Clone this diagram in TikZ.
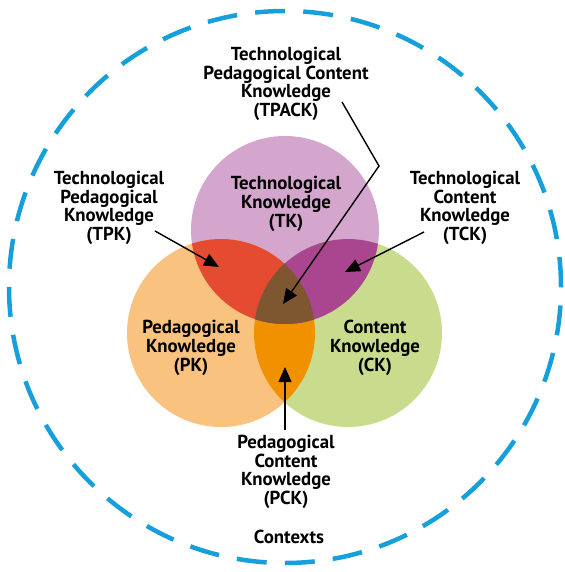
\documentclass[tikz,border=0pt]{standalone}
\usepackage{fontspec}
\setmainfont{PT Sans}
\usetikzlibrary{arrows.meta}
\definecolor{tkpink}{HTML}{D4A6CD}
\definecolor{pkpeach}{HTML}{F9C37F}
\definecolor{ckgreen}{HTML}{C9DC8D}
\definecolor{tpkred}{HTML}{E54B31}
\definecolor{tckpurple}{HTML}{AA4690}
\definecolor{pckorange}{HTML}{F19100}
\definecolor{tpackbrown}{HTML}{7E5731}
\definecolor{ctxblue}{HTML}{16A0DB}
\tikzset{
  lbl/.style={align=center, inner sep=0pt, font=\bfseries\fontsize{18.8}{18.7}\selectfont},
  arr/.style={-{Triangle[length=15pt,width=13pt]}, line width=1.4pt},
  ctx/.style={ctxblue, line width=4.5pt, dash pattern=on 30pt off 18.17pt}
}

\begin{document}
\begin{tikzpicture}[x=1pt, y=-1pt]
      \useasboundingbox (0,0) rectangle (564,572);
      % Define centres
      \coordinate (tkc) at (285,230);
      \coordinate (pkc) at (221,333);
      \coordinate (ckc) at (348,333);
      % Contexts
      \draw[ctx] (285,287) circle (276pt);
      % Circles
      \fill[tkpink] (tkc) circle (94pt);
      \fill[pkpeach] (pkc) circle (94pt);
      \fill[ckgreen] (ckc) circle (94pt);
      % Overlaps
      \begin{scope}
        \clip (pkc) circle (94pt);
        \fill[pckorange] (ckc) circle (94pt);
      \end{scope}
      \begin{scope}
        \clip (tkc) circle (94pt);
        \fill[tpkred] (pkc) circle (94pt);
        \fill[tckpurple] (ckc) circle (94pt);
        \clip (pkc) circle (94pt);
        \fill[tpackbrown] (ckc) circle (94pt);
      \end{scope}
      % Define nodes
      \node[lbl] (tpack) at (286,84) {Technological\\Pedagogical Content\\Knowledge\\(TPACK)};
      \node[lbl] (tk) at (286,204) {Technological\\Knowledge\\(TK)};
      \node[lbl] (tpk) at (109,208) {Technological\\Pedagogical\\Knowledge\\(TPK)};
      \node[lbl] (tck) at (465,208) {Technological\\Content\\Knowledge\\(TCK)};
      \node[lbl] (pk) at (191,348) {Pedagogical\\Knowledge\\(PK)};
      \node[lbl] (ck) at (375,348) {Content\\Knowledge\\(CK)};
      \node[lbl] (pck) at (286,472) {Pedagogical\\Content\\Knowledge\\(PCK)};
      \node[lbl] (contexts) at (289,537) {Contexts};
      % Arrow ends
      \coordinate (tpkfrom) at (155,231);
      \coordinate (tpkto) at (219,267);
      \coordinate (tckfrom) at (424,232);
      \coordinate (tckto) at (345,272);
      \coordinate (tpackfrom) at (342,102);
      \coordinate (tpackbend) at (379,166);
      \coordinate (tpackto) at (283,304);
      \coordinate (pckfrom) at (285,430);
      \coordinate (pckto) at (285,367);
      % Connect nodes
      \draw[arr] (tpkfrom) -- (tpkto);
      \draw[arr] (tckfrom) -- (tckto);
      \draw[arr] (tpackfrom) -- (tpackbend) -- (tpackto);
      \draw[arr] (pckfrom) -- (pckto);
\end{tikzpicture}
\end{document}
